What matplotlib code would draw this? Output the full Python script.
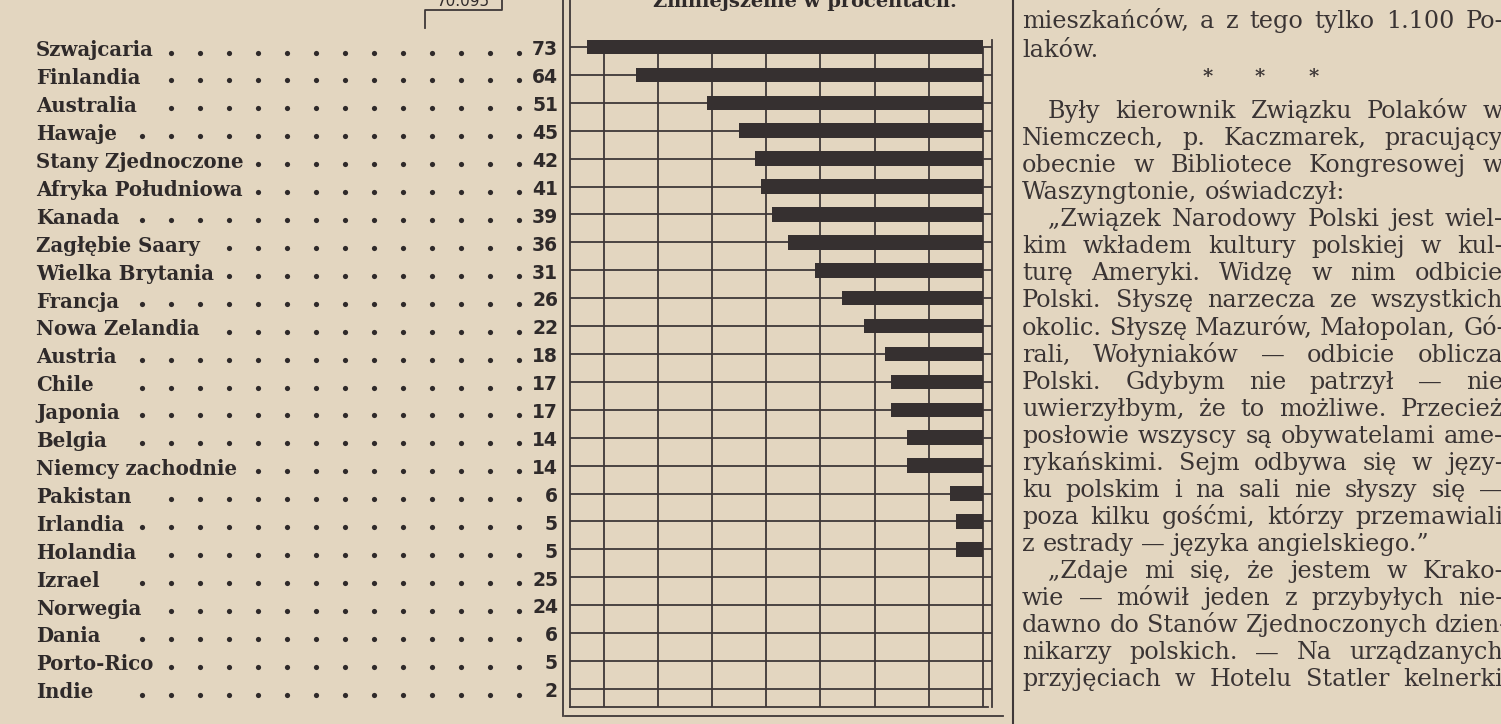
import numpy as np
import matplotlib
matplotlib.use("Agg")
import matplotlib.pyplot as plt
from matplotlib.transforms import blended_transform_factory

# dane z wykresu (zmiana w procentach)
kraje = ["Szwajcaria", "Finlandia", "Australia", "Hawaje", "Stany Zjednoczone",
         "Afryka Południowa", "Kanada", "Zagłębie Saary", "Wielka Brytania",
         "Francja", "Nowa Zelandia", "Austria", "Chile", "Japonia", "Belgia",
         "Niemcy zachodnie", "Pakistan", "Irlandia", "Holandia",
         "Izrael", "Norwegia", "Dania", "Porto-Rico", "Indie"]
procent = [73, 64, 51, 45, 42, 41, 39, 36, 31, 26, 22, 18, 17, 17, 14, 14, 6, 5, 5,
           25, 24, 6, 5, 2]
zmniejszenie = [True] * 19 + [False] * 5
tytul = "Zmniejszenie w procentach."
suma = "70.095"

tekst = [
    "mieszkańców, a z tego tylko 1.100 Po-",
    "laków.",
]
tekst2 = [
    "Były kierownik Związku Polaków w",
    "Niemczech, p. Kaczmarek, pracujący",
    "obecnie w Bibliotece Kongresowej w",
    "Waszyngtonie, oświadczył:",
    "„Związek Narodowy Polski jest wiel-",
    "kim wkładem kultury polskiej w kul-",
    "turę Ameryki. Widzę w nim odbicie",
    "Polski. Słyszę narzecza ze wszystkich",
    "okolic. Słyszę Mazurów, Małopolan, Gó-",
    "rali, Wołyniaków — odbicie oblicza",
    "Polski. Gdybym nie patrzył — nie",
    "uwierzyłbym, że to możliwe. Przecież",
    "posłowie wszyscy są obywatelami ame-",
    "rykańskimi. Sejm odbywa się w języ-",
    "ku polskim i na sali nie słyszy się —",
    "poza kilku gośćmi, którzy przemawiali",
    "z estrady — języka angielskiego.”",
    "„Zdaje mi się, że jestem w Krako-",
    "wie — mówił jeden z przybyłych nie-",
    "dawno do Stanów Zjednoczonych dzien-",
    "nikarzy polskich. — Na urządzanych",
    "przyjęciach w Hotelu Statler kelnerki",
]
# wiersze konczace akapit (bez justowania) i wciecia
koniec_akapitu = {3, 16}
wciecie = {0, 4, 17}

PAPER = '#e3d6c0'
INK = '#2f2a2a'
BAR = '#363030'
GRID = '#3f3838'

W, H = 1501, 724
fig = plt.figure(figsize=(W / 100, H / 100), dpi=100, facecolor=PAPER)
page = fig.add_axes([0, 0, 1, 1])
page.set_xlim(0, W)
page.set_ylim(H, 0)
page.axis('off')
page.patch.set_alpha(0)

# axes wykresu: od x=570 do 992 px, od y=33 do 707 px
row0, row_step = 47, 27.91
x0px, unit = 983, 5.42
ax_l, ax_r, ax_t, ax_b = 570, 992, 33, 707
ax = fig.add_axes([ax_l / W, 1 - ax_b / H, (ax_r - ax_l) / W, (ax_b - ax_t) / H])
ax.set_xlim((x0px - ax_l) / unit, (x0px - ax_r) / unit)
ax.set_ylim((ax_b - row0) / row_step, (ax_t - row0) / row_step)
ax.axis('off')
ax.patch.set_alpha(0)

rows = np.arange(len(kraje))
xlim = ax.get_xlim()
ylim = ax.get_ylim()

# siatka
ax.vlines(np.arange(0, 80, 10), 0, ylim[0], color=GRID, lw=1.3)
ax.hlines(rows, xlim[0], xlim[1], color=GRID, lw=1.3)

# slupki
idx = [i for i in rows if zmniejszenie[i]]
ax.barh(idx, [procent[i] for i in idx], height=0.52, color=BAR, zorder=3)

# ramki
lk = dict(color=GRID, lw=1.3)
page.plot([570, 570], [0, 707], **lk)
page.plot([563, 563], [0, 716], **lk)
page.plot([570, 988], [707, 707], **lk)
page.plot([565, 1003], [716, 716], **lk)
page.plot([992, 992], [40, 707], **lk)
page.plot([1013, 1013], [0, 724], color=GRID, lw=1.5)
# ramka z suma
page.plot([425, 425, 502, 502], [28, 10, 10, 0], **lk)
page.text(463, 6, suma, ha='center', va='baseline', fontsize=11,
          family='DejaVu Sans', color=INK)
page.text(805, 7, tytul, ha='center', va='baseline', fontsize=14,
          family='DejaVu Serif', weight='bold', color=INK)

# etykiety i liczby
tr = blended_transform_factory(page.transData, ax.transData)
renderer = fig.canvas.get_renderer()
dot_cols = 519 - 29 * np.arange(14)
for i, (k, v) in enumerate(zip(kraje, procent)):
    t = page.text(36, i + 0.12, k, transform=tr, ha='left', va='center',
                  fontsize=14.2, family='DejaVu Serif', weight='bold', color=INK)
    page.text(558, i + 0.1, str(v), transform=tr, ha='right', va='center',
              fontsize=13.5, family='DejaVu Sans', weight='bold', color=INK)
    x_end = t.get_window_extent(renderer).x1
    cols = dot_cols[dot_cols > x_end + 12]
    page.scatter(cols, np.full(len(cols), i + 0.2), s=14, color=INK,
                 transform=tr, linewidths=0)

# kolumna tekstu po prawej
tx0, tx1 = 1022, 1503
fk = dict(fontsize=17.2, family='DejaVu Serif', color='#3a3434', va='baseline')


def line_out(s, y, x_start, just):
    words = s.split(' ')
    ts = [page.text(0, y, w, **fk) for w in words]
    ws = [t.get_window_extent(renderer).width for t in ts]
    sp = page.text(0, y, 'a a', **fk)
    sp2 = page.text(0, y, 'aa', **fk)
    space = sp.get_window_extent(renderer).width - sp2.get_window_extent(renderer).width
    sp.remove()
    sp2.remove()
    gap = space
    if just and len(words) > 1:
        gap = max(space, (tx1 - x_start - sum(ws)) / (len(words) - 1))
    x = x_start
    for t, w in zip(ts, ws):
        t.set_x(x)
        x += w + gap


line_out(tekst[0], 28, tx0, True)
line_out(tekst[1], 57, tx0, False)
for xs in (1208, 1260, 1314):
    page.text(xs, 82, '*', ha='center', va='baseline', fontsize=14,
              family='DejaVu Serif', weight='bold', color='#3a3434')
for j, s in enumerate(tekst2):
    y = 118 + j * 27.07
    xs = tx0 + 26 if j in wciecie else tx0
    line_out(s, y, xs, j not in koniec_akapitu)

fig.savefig('out.png', dpi=100, facecolor=PAPER)
